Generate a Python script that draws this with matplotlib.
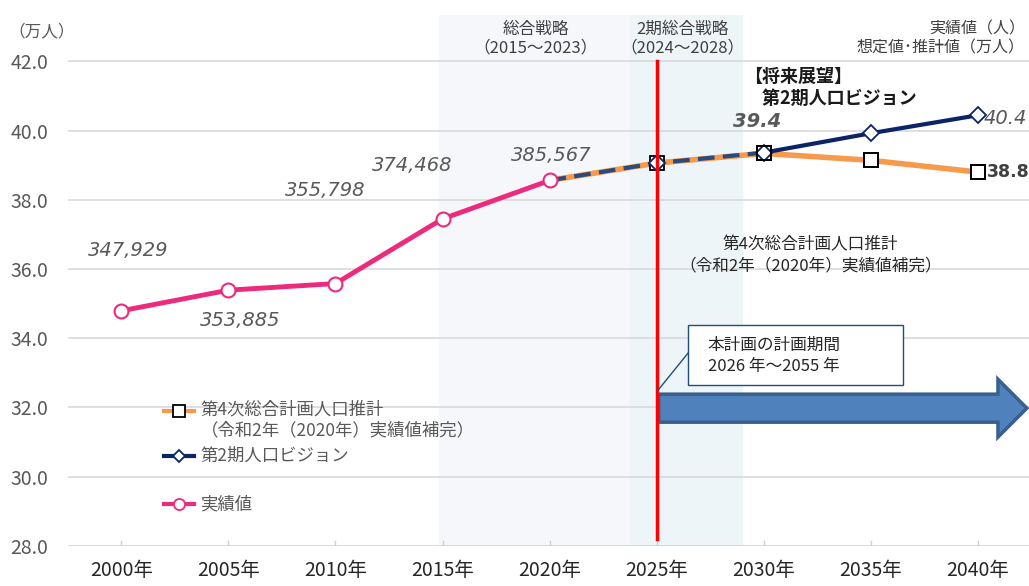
import matplotlib.pyplot as plt
from matplotlib.patches import FancyArrow, Rectangle

plt.rcParams['font.family'] = ['Noto Sans CJK JP', 'DejaVu Sans']

# データ
years = [2000, 2005, 2010, 2015, 2020, 2025, 2030, 2035, 2040]
xlabels = [f'{y}年' for y in years]

actual_years = [2000, 2005, 2010, 2015, 2020]
actual_people = [347929, 353885, 355798, 374468, 385567]
actual = [v / 10000 for v in actual_people]

plan_years = [2020, 2025, 2030, 2035, 2040]
plan4 = [38.56, 39.06, 39.34, 39.14, 38.80]      # 第4次総合計画人口推計
vision2 = [38.56, 39.06, 39.36, 39.92, 40.44]    # 第2期人口ビジョン

pink = '#ec2b7c'
orange = '#f79a4c'
navy = '#0c2466'
gray_txt = '#595959'

fig = plt.figure(figsize=(10.29, 5.86), dpi=100)
ax = fig.add_axes([0.066, 0.0683, 0.934, 0.9057])
ax.set_xlim(1997.5, 2042.4)
ax.set_ylim(28, 43.33)

# 背景の期間
ax.axvspan(2014.85, 2023.75, color='#f5f7fb', zorder=0)
ax.axvspan(2023.75, 2029.0, color='#edf5f9', zorder=0)

# グリッド
for v in range(30, 43, 2):
    ax.plot([1997.5, 2042.4], [v, v], color='#d9d9d9', lw=1.2, zorder=1)
ax.plot([1997.5, 2042.4], [28, 28], color='#d0d0d0', lw=1.8, zorder=1)
for y in years:
    ax.plot([y, y], [28, 28.15], color='#d0d0d0', lw=1, zorder=1)

for s in ax.spines.values():
    s.set_visible(False)
ax.set_yticks(range(28, 43, 2))
ax.set_yticklabels([f'{v:.1f}' for v in range(28, 43, 2)], fontsize=14, color=gray_txt)
ax.set_xticks(years)
ax.set_xticklabels(xlabels, fontsize=14, color='#262626')
ax.tick_params(length=0, pad=10)
ax.tick_params(axis='y', pad=14)

# 線
ax.plot(plan_years, plan4, color=orange, lw=4, zorder=3)
ax.plot(plan_years[2:], vision2[2:], color=navy, lw=3, zorder=4)
ax.plot(plan_years[:3], vision2[:3], color='#2a4a80', lw=3, ls=(0, (4, 2)), zorder=4)
ax.plot(actual_years, actual, color=pink, lw=3.5, zorder=5)

# マーカー
ax.plot(plan_years[1:], plan4[1:], ls='none', marker='s', ms=10, mfc='white', mec='black', mew=1.3, zorder=6)
ax.plot(plan_years[1:], vision2[1:], ls='none', marker='D', ms=8, mfc='white', mec=navy, mew=1.3, zorder=7)
ax.plot(plan_years[2:], plan4[2:], ls='none', marker='s', ms=10, mfc='none', mec='black', mew=1.3, zorder=7)
ax.plot(actual_years, actual, ls='none', marker='o', ms=10, mfc='white', mec=pink, mew=1.5, zorder=8)

# 計画期間の線と矢印
ax.plot([2025, 2025], [28.2, 42.0], color='#ff0000', lw=2.5, zorder=9)
arrow = FancyArrow(2025.1, 31.98, 17.2, 0, width=0.81, head_width=1.67, head_length=1.35,
                   length_includes_head=True, fc='#4f81bd', ec='#3a5f8e', lw=2.5, zorder=8)
ax.add_patch(arrow)
ax.plot([2025.07, 2026.47], [32.5, 33.57], color='#1f4e79', lw=1, zorder=9)
ax.add_patch(Rectangle((2026.47, 32.65), 10.04, 1.73, fc='white', ec='#1f4e79', lw=1, zorder=10))
ax.text(2027.4, 33.5, '本計画の計画期間\n2026 年～2055 年', fontsize=12, color='#262626',
        va='center', ha='left', linespacing=1.3, zorder=11)

# 値ラベル
lab_kw = dict(family=['DejaVu Sans'], style='italic', color=gray_txt, fontsize=14, ha='center', va='center')
ax.text(2000.33, 36.54, '347,929', **lab_kw)
ax.text(2005.55, 34.52, '353,885', **lab_kw)
ax.text(2009.5, 38.28, '355,798', **lab_kw)
ax.text(2013.6, 39.0, '374,468', **lab_kw)
ax.text(2020.1, 39.29, '385,567', **lab_kw)
ax.text(2029.7, 40.27, '39.4', family=['DejaVu Sans'], style='italic', weight='bold',
        color=gray_txt, fontsize=14, ha='center', va='center')
ax.text(2040.3, 40.36, '40.4', family=['DejaVu Sans'], style='italic', color=gray_txt,
        fontsize=14, ha='left', va='center')
ax.text(2040.42, 38.8, '38.8', family=['DejaVu Sans'], weight='bold', color='#404040',
        fontsize=12.5, ha='left', va='center')

# 注記
ax.text(2029.1, 41.25, '【将来展望】\n　第2期人口ビジョン', fontsize=13, weight='bold', color='#1a1a1a',
        ha='left', va='center', linespacing=1.2)
ax.text(2032.2, 36.4, '第4次総合計画人口推計\n（令和2年（2020年）実績値補完）', fontsize=12, color='#262626',
        ha='center', va='center', linespacing=1.3)
ax.text(2019.35, 42.65, '総合戦略\n（2015～2023）', fontsize=12, color='#404040',
        ha='center', va='center', linespacing=1.15)
ax.text(2026.2, 42.65, '2期総合戦略\n（2024～2028）', fontsize=12, color='#404040',
        ha='center', va='center', linespacing=1.15)
ax.text(2042.2, 42.65, '実績値（人）\n想定値･推計値（万人）', fontsize=11.5, color='#404040',
        ha='right', va='center', linespacing=1.15)
fig.text(0.008, 0.945, '（万人）', fontsize=12, color=gray_txt, ha='left', va='center')

# 凡例
lx0, lx1 = 2001.99, 2003.39
leg = [
    (31.9, orange, 's', 'black', 'white', '第4次総合計画人口推計\n（令和2年（2020年）実績値補完）', 8),
    (30.6, navy, 'D', navy, 'white', '第2期人口ビジョン', 6),
    (29.2, pink, 'o', pink, 'white', '実績値', 8),
]
for yy, c, m, mec, mfc, txt, ms in leg:
    ax.plot([lx0, lx1], [yy, yy], color=c, lw=3, zorder=5)
    ax.plot([(lx0 + lx1) / 2], [yy], marker=m, ms=ms, mec=mec, mfc=mfc, mew=1.3, zorder=6)
    va = 'top' if '\n' in txt else 'center'
    ax.text(lx1 + 0.3, yy + (0.3 if '\n' in txt else 0), txt, fontsize=12.5, color=gray_txt,
            ha='left', va=va, linespacing=1.2)

fig.savefig('out.png', dpi=100)
